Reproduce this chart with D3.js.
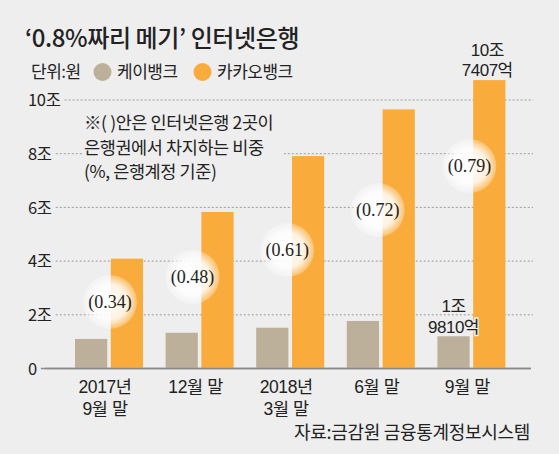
<!DOCTYPE html>
<html>
<head>
<meta charset="utf-8">
<script src="https://cdn.jsdelivr.net/npm/d3@7"></script>
<style>
  body { margin: 0; background: #eeeeee; }
  text { font-family: "Noto Sans CJK KR", "Noto Sans", sans-serif; fill: #222; }
  .stack { font-family: "Liberation Sans", "Noto Sans CJK KR", sans-serif; }
  .bubble-label { font-family: "Liberation Serif", "DejaVu Serif", serif; }
</style>
</head>
<body>
<svg id="chart" width="559" height="454"></svg>
<script>
// data (조 원)
const periods = ["2017년\n9월 말", "12월 말", "2018년\n3월 말", "6월 말", "9월 말"];
const seriesNames = ["케이뱅크", "카카오뱅크"];
const kbank = [1.10, 1.33, 1.52, 1.77, 1.20];
const kakaobank = [4.09, 5.83, 7.91, 9.65, 10.74];
const shares = [0.34, 0.48, 0.61, 0.72, 0.79]; // 은행권 내 비중 (%)
const yTicks = [0, 2, 4, 6, 8, 10];
const yTickLabels = ["0", "2조", "4조", "6조", "8조", "10조"];
const kbankLastLabel = ["1조", "9810억"];
const kakaoLastLabel = ["10조", "7407억"];

// layout of the share bubbles (y in chart units, x nudge in px)
const bubbleAt = [2.48, 3.41, 4.41, 5.90, 7.54];
const bubbleNudge = [1, -7, -3, -3, -2];

const colors = { "케이뱅크": "#bcb09b", "카카오뱅크": "#f9ab3b" };
const bg = "#eeeeee";

const svg = d3.select("#chart");
svg.append("rect").attr("width", 559).attr("height", 454).attr("fill", bg);

const x = d3.scaleBand().domain(periods).range([63.7, 516.7]);
const xSub = d3.scaleBand().domain(seriesNames).range([-34, 34]).paddingInner(0.1);
const y = d3.scaleLinear().domain([0, 10]).range([368.5, 100]);

const cx = p => x(p) + x.bandwidth() / 2;

// title + legend
svg.append("text")
  .attr("x", 25).attr("y", 47)
  .attr("font-size", 24).attr("font-weight", 500)
  .attr("letter-spacing", -0.4)
  .text("‘0.8%짜리 메기’ 인터넷은행");

const legend = svg.append("g").attr("font-size", 17).attr("letter-spacing", -0.5);
legend.append("text").attr("x", 31).attr("y", 72).attr("dy", "0.35em").text("단위:원");
legend.append("circle").attr("cx", 102.5).attr("cy", 72).attr("r", 9).attr("fill", colors["케이뱅크"]);
legend.append("text").attr("x", 117).attr("y", 72).attr("dy", "0.35em").text("케이뱅크");
legend.append("circle").attr("cx", 202.5).attr("cy", 72).attr("r", 9).attr("fill", colors["카카오뱅크"]);
legend.append("text").attr("x", 217).attr("y", 72).attr("dy", "0.35em").text("카카오뱅크");

// y grid with labels at the left
const grid = svg.append("g");
yTicks.forEach((t, i) => {
  const lbl = grid.append("text")
    .attr("x", 28).attr("y", y(t)).attr("dy", "0.38em")
    .attr("font-size", 16.5).attr("letter-spacing", -0.3)
    .text(yTickLabels[i]);
  const w = lbl.node().getComputedTextLength();
  grid.append("line")
    .attr("x1", 28 + w + 4).attr("x2", t === 0 ? 531 : 533)
    .attr("y1", y(t)).attr("y2", y(t))
    .attr("stroke", t === 0 ? "#8a8a8a" : "#9a9a9a")
    .attr("stroke-width", t === 0 ? 1.6 : 1)
    .attr("stroke-dasharray", t === 0 ? null : "2,2");
});

// note box covers the grid line behind it
const note = ["※( )안은 인터넷은행 2곳이", "은행권에서 차지하는 비중", "(%, 은행계정 기준)"];
svg.append("rect").attr("x", 82).attr("y", 110).attr("width", 202).attr("height", 74).attr("fill", bg);
svg.append("g").attr("font-size", 17.5).attr("letter-spacing", -0.4)
  .selectAll("text").data(note).join("text")
  .attr("x", 84).attr("y", (d, i) => 129 + i * 24.5)
  .text(d => d);

// bars
const rows = periods.map((p, i) => ({ p, values: [kbank[i], kakaobank[i]] }));
const groups = svg.append("g").selectAll("g").data(rows).join("g")
  .attr("transform", d => `translate(${cx(d.p)},0)`);
groups.selectAll("rect")
  .data(d => d.values.map((v, j) => ({ key: seriesNames[j], v })))
  .join("rect")
  .attr("x", d => xSub(d.key))
  .attr("width", xSub.bandwidth())
  .attr("y", d => y(d.v))
  .attr("height", d => y(0) - y(d.v))
  .attr("fill", d => colors[d.key]);

// baseline over the bars
svg.append("line")
  .attr("x1", 45).attr("x2", 531).attr("y1", y(0)).attr("y2", y(0))
  .attr("stroke", "#8a8a8a").attr("stroke-width", 1.6);

// share bubbles
const defs = svg.append("defs");
const grad = defs.append("radialGradient").attr("id", "bubble");
grad.append("stop").attr("offset", "0%").attr("stop-color", "#fff").attr("stop-opacity", 0.95);
grad.append("stop").attr("offset", "65%").attr("stop-color", "#fff").attr("stop-opacity", 0.85);
grad.append("stop").attr("offset", "100%").attr("stop-color", "#fff").attr("stop-opacity", 0.25);

const fmt = d3.format(".2f");
const bubbles = svg.append("g").selectAll("g").data(periods).join("g")
  .attr("transform", (p, i) => `translate(${cx(p) + bubbleNudge[i]},${y(bubbleAt[i])})`);
bubbles.append("circle").attr("r", 27).attr("fill", "url(#bubble)");
bubbles.append("text")
  .attr("class", "bubble-label")
  .attr("text-anchor", "middle").attr("dy", "0.33em")
  .attr("font-size", 18)
  .text((p, i) => `(${fmt(shares[i])})`);

// value labels on the last period
const last = periods[periods.length - 1];
function valueLabel(lines, xc, y1, gap) {
  lines.forEach((l, i) => svg.append("text")
    .attr("class", "stack")
    .attr("x", xc).attr("y", y1 + i * gap)
    .attr("text-anchor", "middle").attr("font-size", 17)
    .attr("stroke", bg).attr("stroke-width", 3).attr("paint-order", "stroke")
    .attr("letter-spacing", -0.5)
    .text(l));
}
const kakaoX = cx(last) + xSub("카카오뱅크") + xSub.bandwidth() / 2;
const kbankX = cx(last) + xSub("케이뱅크") + xSub.bandwidth() / 2;
valueLabel(kakaoLastLabel, kakaoX - 2, y(kakaobank[4]) - 24, 19.5);
valueLabel(kbankLastLabel, kbankX, y(kbank[4]) - 24, 21);

// x labels, one text per line
const xl = svg.append("g").attr("font-size", 17.5).attr("letter-spacing", -0.4);
periods.forEach(p => {
  p.split("\n").forEach((l, i) => xl.append("text")
    .attr("class", "stack")
    .attr("text-anchor", "middle")
    .attr("x", cx(p) - 4).attr("y", 393 + i * 21.5)
    .text(l));
});

// source
svg.append("text")
  .attr("x", 530).attr("y", 439).attr("text-anchor", "end")
  .attr("font-size", 18).attr("letter-spacing", -0.3)
  .text("자료:금감원 금융통계정보시스템");
</script>
</body>
</html>
